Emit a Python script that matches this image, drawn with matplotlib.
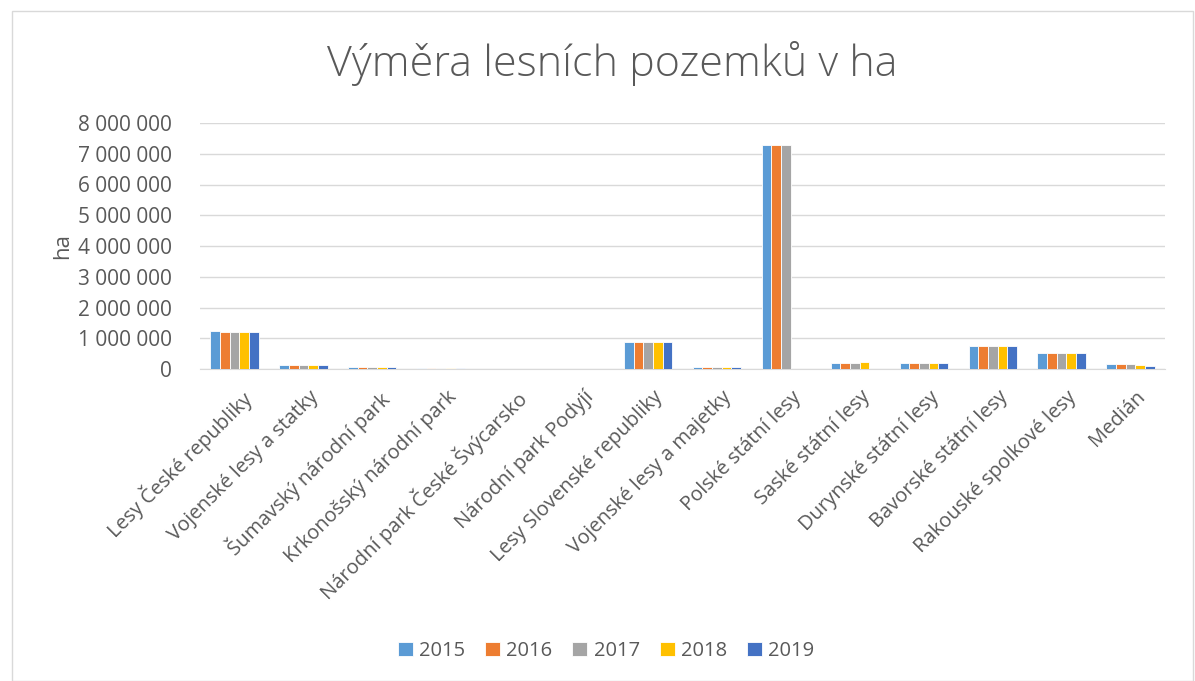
import matplotlib
matplotlib.use("Agg")
import matplotlib.pyplot as plt
import matplotlib.transforms as mtransforms
import numpy as np
from matplotlib.ticker import FuncFormatter, MultipleLocator

categories = ["Lesy České republiky", "Vojenské lesy a statky", "Šumavský národní park",
              "Krkonošský národní park", "Národní park České Švýcarsko", "Národní park Podyjí",
              "Lesy Slovenské republiky", "Vojenské lesy a majetky", "Polské státní lesy",
              "Saské státní lesy", "Durynské státní lesy", "Bavorské státní lesy",
              "Rakouské spolkové lesy", "Medián"]
years = ["2015", "2016", "2017", "2018", "2019"]
nan = np.nan
v2015 = [1230000, 130000, 68000, 36000, 8000, 6000, 870000, 65000, 7300000, 200000, 200000, 750000, 510000, 150000]
v2016 = [1200000, 128000, 68000, 36000, 8000, 6000, 870000, 65000, 7300000, 200000, 200000, 750000, 510000, 150000]
v2017 = [1190000, 127000, 68000, 36000, 8000, 6000, 870000, 65000, 7300000, 200000, 200000, 750000, 510000, 150000]
v2018 = [1190000, 127000, 68000, 36000, 8000, 6000, 870000, 65000, nan, 220000, 200000, 750000, 510000, 120000]
v2019 = [1200000, 126000, 68000, 36000, 8000, 6000, 865000, 65000, nan, nan, 200000, 750000, 510000, 100000]
series = [v2015, v2016, v2017, v2018, v2019]
colors = ["#5b9bd5", "#ed7d31", "#a5a5a5", "#ffc000", "#4472c4"]

plt.rcParams['font.family'] = ['Open Sans', 'DejaVu Sans']
txt = "#595959"

fig = plt.figure(figsize=(11.95, 6.81), dpi=100)
ax = fig.add_axes([200/1195, 1 - 369/681, 965/1195, (369-123)/681])
ax.set_ylim(0, 8000000)

x = np.arange(len(categories))
bw = 0.14
for i, (vals, c, y) in enumerate(zip(series, colors, years)):
    ax.bar(x + (i - 2) * bw, vals, width=bw, color=c, edgecolor="white", linewidth=0.6, label=y, zorder=3)

ax.set_xlim(-0.5, len(categories) - 0.5)
ax.yaxis.set_major_locator(MultipleLocator(1000000))
ax.yaxis.set_major_formatter(FuncFormatter(lambda v, p: f"{int(v):,}".replace(",", " ")))
ax.grid(axis="y", color="#d9d9d9", linewidth=1, zorder=0)
for s in ["top", "right", "left"]:
    ax.spines[s].set_visible(False)
ax.spines["bottom"].set_color("#d9d9d9")
ax.tick_params(axis="y", length=0, labelsize=15, labelcolor=txt, pad=20)
ax.tick_params(axis="x", length=0, labelsize=14.5, labelcolor=txt, pad=13)
ax.set_xticks(x)
ax.set_xticklabels(categories, rotation=45, ha="right", rotation_mode="anchor")
offset = mtransforms.ScaledTranslation(5/100, 0, fig.dpi_scale_trans)
for lab in ax.get_xticklabels():
    lab.set_transform(lab.get_transform() + offset)
ax.set_ylabel("ha", fontsize=16, color=txt, labelpad=4)

fig.text(612/1195, 1 - 63/681, "Výměra lesních pozemků v ha", ha="center", va="center",
         fontsize=31, color=txt, fontweight="light")

leg = fig.legend(loc="center", bbox_to_anchor=(606/1195, 1 - 651/681), ncol=5, frameon=False,
                 fontsize=14.5, handlelength=0.75, handleheight=0.75, columnspacing=1.0, handletextpad=0.3)
for t in leg.get_texts():
    t.set_color(txt)

border = plt.Rectangle((12/1195, 0), 1 - 12/1195 - 2/1195, 1 - 11/681, transform=fig.transFigure,
                       fill=False, edgecolor="#d9d9d9", linewidth=1)
fig.patches.append(border)

fig.savefig("out.png", dpi=100)
